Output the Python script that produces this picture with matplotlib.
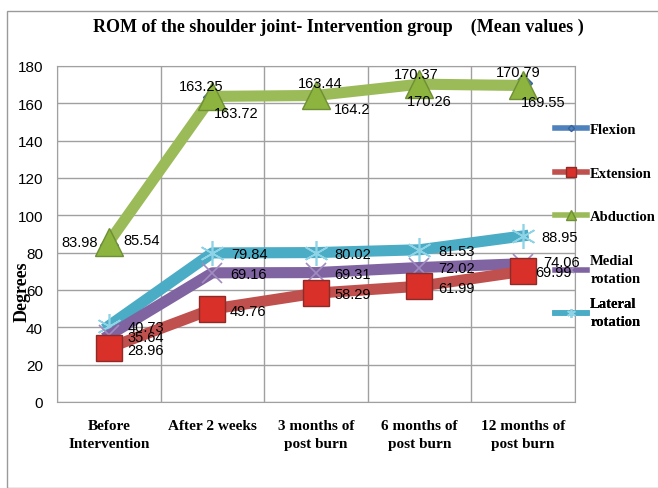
import matplotlib.pyplot as plt
from matplotlib.patches import Rectangle

categories = ["Before\nIntervention", "After 2 weeks", "3 months of\npost burn",
              "6 months of\npost burn", "12 months of\npost burn"]
flexion = [83.98, 163.25, 163.44, 170.37, 170.79]
extension = [28.96, 49.76, 58.29, 61.99, 69.99]
abduction = [85.54, 163.72, 164.2, 170.26, 169.55]
medial = [35.64, 69.16, 69.31, 72.02, 74.06]
lateral = [40.73, 79.84, 80.02, 81.53, 88.95]

# label offsets in pixels (dx right, dy down) relative to each point
flex_off = [(-29, -3), (-11, -11), (4, -14), (-3, -10), (-5, -11)]
abd_off = [(33, -2), (24, 17), (36, 14), (10, 17), (20, 17)]
lat_off = [(37, 1), (37, 1), (37, 1), (37, 1), (37, 1)]
med_off = [(37, 2), (36, 1), (37, 1), (37, 0), (39, -2)]
ext_off = [(37, 2), (36, 2), (37, 1), (37, 2), (30, 1)]

fig = plt.figure(figsize=(6.58, 4.89), dpi=100)
ax = fig.add_axes([0.0866, 0.176, 0.787, 0.687])

# outer chart frame
fig.patches.append(Rectangle((7 / 658, 0), 1, 1 - 12 / 489, transform=fig.transFigure,
                             fill=False, edgecolor="#9a9a9a", lw=1))

x = list(range(len(categories)))

ax.plot(x, lateral, color="#4BACC6", lw=8, marker=(6, 2, 0), markersize=18,
        markeredgecolor="#8fd3e6", markeredgewidth=1.2, label="Lateral\nrotation", zorder=3)
ax.plot(x, medial, color="#8064A2", lw=8, marker="x", markersize=14,
        markeredgecolor="#a08cc0", markeredgewidth=1.2, label="Medial\nrotation", zorder=4)
ax.plot(x, extension, color="#C0504D", lw=8, marker="s", markersize=19,
        markerfacecolor="#d9302a", markeredgecolor="#8c2b28", label="Extension", zorder=5)
ax.plot(x, flexion, color="#4F81BD", lw=3, marker="D", markersize=9,
        markeredgecolor="#3a6499", label="Flexion", zorder=6)
ax.plot(x, abduction, color="#9BBB59", lw=8, marker="^", markersize=20,
        markerfacecolor="#8db43e", markeredgecolor="#6e8f33", label="Abduction", zorder=7)

lab = dict(fontsize=10.5, family="Liberation Sans", color="black", zorder=10,
           ha="center", va="center", textcoords="offset points")
for vals, offs, fmt in [(flexion, flex_off, "{:.2f}"), (abduction, abd_off, "{:g}"),
                        (lateral, lat_off, "{:.2f}"), (medial, med_off, "{:.2f}"),
                        (extension, ext_off, "{:.2f}")]:
    for i in range(5):
        dx, dy = offs[i]
        ax.annotate(fmt.format(vals[i]), (x[i], vals[i]), xytext=(dx * 0.72, -dy * 0.72), **lab)

ax.set_xlim(-0.5, 4.5)
ax.set_ylim(0, 180)
ax.set_yticks(range(0, 181, 20))
ax.set_xticks([i + 0.5 for i in range(-1, 5)])
ax.set_xticklabels([])
ax.tick_params(axis="x", length=0)
ax.tick_params(axis="y", length=0, labelsize=11, pad=10)
for t in ax.get_yticklabels():
    t.set_family("Liberation Sans")
for i, c in enumerate(categories):
    ax.text(i, -9, c, ha="center", va="top", fontsize=11, fontweight="bold",
            family="Liberation Serif", linespacing=1.55)
ax.grid(True, color="#a0a0a0", lw=1)
ax.set_axisbelow(True)
for s in ax.spines.values():
    s.set_color("#a0a0a0")

fig.text(22 / 658, 1 - 292 / 489, "Degrees", rotation=90, ha="center", va="center",
         fontsize=13, fontweight="bold", family="Liberation Serif")
fig.text(0.515, 0.944, "ROM of the shoulder joint- Intervention group    (Mean values )",
         ha="center", va="center", fontsize=13, fontweight="bold", family="Liberation Serif")

# one legend box per entry so each sits where the reference has it
handles, labels = ax.get_legend_handles_labels()
order = [3, 2, 4, 1, 0]
entry_px = [124, 168, 211, 255, 298]   # top of each entry, pixels from figure top
for k, idx in enumerate(order):
    yfrac = (403 - entry_px[k]) / 336
    leg = ax.legend([handles[idx]], [labels[idx]], loc="upper left",
                    bbox_to_anchor=(0.962, yfrac), frameon=False,
                    borderpad=0, borderaxespad=0,
                    prop=dict(family="Liberation Serif", weight="bold", size=10.5),
                    handlelength=2.2, markerscale=0.35, handletextpad=0.2)
    for h in leg.get_lines():
        h.set_linewidth(4)
    for t in leg.get_texts():
        t.set_linespacing(1.55)
    ax.add_artist(leg)

fig.savefig("out.png", dpi=100)
